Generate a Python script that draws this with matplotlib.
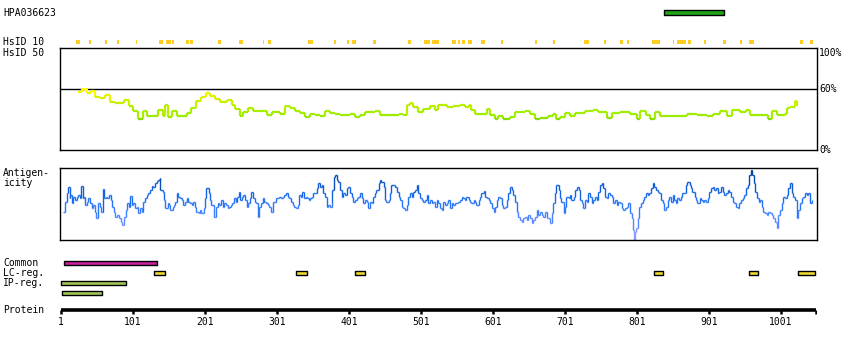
import numpy as np
import matplotlib
matplotlib.use("Agg")
import matplotlib.pyplot as plt
from matplotlib.collections import LineCollection
from matplotlib.colors import LinearSegmentedColormap, Normalize

# ---------------------------------------------------------------- data
PROTEIN_LENGTH = 1050
ANTIGEN_NAME = "HPA036623"
ANTIGEN_SPAN = (838, 922)

# HsID 10 hits (residue start / end)
HSID10_START = [23, 41, 62, 79, 105, 137, 147, 155, 175, 180, 220, 249, 282, 289,
                344, 380, 399, 406, 435, 484, 505, 517, 521, 545, 553, 559, 567,
                585, 588, 612, 660, 685, 728, 756, 778, 787, 823, 851, 857, 866,
                873, 894, 921, 944, 957, 1028, 1042]
HSID10_END = [27, 42, 64, 81, 106, 142, 153, 157, 178, 184, 223, 253, 283, 292,
              350, 382, 401, 410, 438, 486, 513, 520, 525, 549, 554, 561, 571,
              586, 589, 615, 661, 686, 734, 758, 781, 789, 833, 852, 864, 868,
              875, 896, 924, 946, 963, 1031, 1045]

# HsID 50 identity profile (residue, percent)
HSID50_POS = [25, 30, 37, 42, 48, 55, 62, 69, 76, 88, 95, 101, 108, 115, 120, 134,
              136, 143, 146, 150, 155, 162, 169, 176, 182, 189, 196, 202, 208, 215,
              222, 231, 238, 243, 250, 254, 261, 268, 277, 287, 294, 305, 312, 319,
              326, 333, 340, 347, 354, 361, 368, 375, 382, 389, 395, 402, 409, 416,
              423, 432, 437, 444, 453, 463, 470, 476, 481, 486, 490, 497, 504, 514,
              520, 525, 532, 537, 546, 555, 562, 567, 571, 576, 585, 592, 597, 604,
              608, 615, 625, 632, 645, 652, 659, 666, 678, 685, 689, 694, 701, 708,
              715, 729, 740, 747, 759, 766, 777, 791, 801, 805, 814, 819, 826, 833,
              847, 861, 870, 884, 898, 907, 916, 926, 933, 944, 953, 958, 972, 983,
              988, 995, 1007, 1009, 1014, 1021, 1023]
HSID50_PCT = [57, 60, 56, 58, 52, 51, 54, 47, 46, 49, 43, 38, 30, 38, 33, 33,
              39, 33, 44, 32, 38, 33, 33, 36, 41, 48, 52, 56, 53, 50,
              47, 49, 44, 40, 33, 37, 41, 38, 38, 34, 37, 35, 43, 41,
              38, 36, 32, 35, 34, 33, 38, 36, 35, 34, 34, 35, 32, 34,
              37, 37, 38, 34, 34, 34, 35, 34, 44, 46, 42, 37, 40, 43,
              39, 44, 44, 42, 43, 44, 42, 44, 39, 35, 35, 40, 34, 30,
              33, 30, 32, 37, 38, 35, 30, 31, 33, 35, 30, 32, 36, 33,
              36, 38, 39, 37, 31, 36, 37, 35, 30, 38, 34, 30, 37, 33,
              33, 33, 35, 34, 33, 35, 38, 33, 39, 37, 39, 34, 34, 30,
              38, 34, 35, 41, 42, 48, 43]

# Antigenicity profile (residue, score)
ANTIGEN_POS = [4, 7, 9, 11, 13, 14, 16, 18, 20, 23, 25, 27, 29, 31, 33, 35, 37, 39,
               41, 44, 46, 48, 50, 52, 55, 57, 59, 61, 63, 65, 68, 70, 72, 75, 76, 79,
               82, 84, 86, 88, 91, 93, 95, 97, 99, 101, 104, 106, 108, 111, 113, 115,
               118, 120, 122, 125, 127, 129, 132, 134, 136, 138, 139, 142, 144, 146,
               149, 151, 153, 156, 158, 160, 162, 164, 166, 169, 171, 173, 176, 178,
               180, 183, 185, 187, 189, 192, 194, 196, 199, 201, 203, 206, 208, 210,
               213, 214, 216, 219, 221, 223, 226, 228, 230, 233, 235, 237, 239, 241,
               244, 246, 248, 250, 252, 254, 257, 259, 261, 264, 265, 267, 270, 272,
               274, 276, 279, 281, 283, 286, 288, 290, 293, 295, 297, 300, 302, 304,
               307, 309, 311, 314, 316, 318, 320, 323, 325, 327, 330, 332, 334, 336,
               339, 341, 343, 345, 347, 349, 351, 354, 356, 358, 361, 363, 365, 368,
               370, 372, 375, 377, 378, 380, 382, 384, 386, 389, 391, 393, 395, 398,
               400, 402, 405, 407, 409, 412, 414, 416, 419, 421, 423, 426, 428, 430,
               433, 435, 437, 439, 442, 444, 446, 449, 451, 453, 456, 458, 460, 463,
               465, 467, 470, 472, 474, 476, 479, 481, 483, 486, 488, 490, 493, 495,
               497, 500, 502, 504, 507, 509, 511, 514, 516, 518, 520, 523, 525, 527,
               530, 532, 534, 537, 539, 541, 544, 546, 548, 551, 553, 555, 558, 560,
               562, 564, 567, 569, 571, 574, 576, 578, 581, 583, 585, 588, 590, 592,
               595, 597, 599, 602, 604, 606, 608, 611, 613, 615, 618, 620, 622, 625,
               627, 629, 632, 634, 636, 639, 641, 643, 645, 648, 650, 652, 655, 657,
               659, 662, 664, 666, 669, 671, 673, 676, 678, 680, 683, 685, 687, 689,
               692, 694, 696, 699, 701, 703, 706, 708, 710, 713, 715, 717, 720, 722,
               724, 726, 729, 731, 733, 736, 738, 740, 743, 745, 747, 750, 752, 754,
               757, 759, 761, 763, 766, 768, 770, 773, 775, 777, 780, 782, 784, 787,
               789, 791, 794, 795, 797, 798, 800, 803, 804, 807, 809, 811, 813, 816,
               818, 820, 823, 825, 827, 830, 832, 834, 837, 839, 841, 844, 846, 848,
               851, 853, 855, 857, 860, 862, 864, 867, 869, 871, 874, 876, 878, 881,
               883, 885, 888, 890, 892, 894, 897, 899, 901, 904, 906, 908, 911, 913,
               915, 918, 920, 922, 925, 927, 929, 932, 934, 936, 938, 941, 943, 945,
               948, 950, 952, 955, 957, 959, 961, 963, 965, 967, 970, 972, 974, 976,
               979, 981, 983, 986, 988, 990, 993, 995, 997, 1000, 1002, 1004, 1007,
               1009, 1011, 1014, 1016, 1018, 1020, 1023, 1025, 1027, 1030, 1032, 1034,
               1037, 1039, 1041, 1044]
ANTIGEN_VAL = [28, 38, 47, 53, 42, 45, 37, 43, 40, 43, 45, 42, 54, 42, 43, 35, 38, 42,
               37, 32, 35, 28, 22, 37, 33, 28, 51, 42, 43, 42, 45, 40, 33, 28, 23, 25,
               22, 18, 15, 23, 30, 37, 33, 44, 35, 37, 32, 33, 27, 32, 28, 38, 42, 45,
               47, 50, 54, 53, 57, 59, 60, 62, 50, 48, 40, 32, 37, 35, 30, 33, 35, 38,
               47, 43, 42, 40, 35, 38, 42, 38, 37, 35, 38, 33, 28, 27, 30, 27, 32, 42,
               52, 47, 40, 35, 32, 23, 33, 37, 35, 40, 33, 37, 35, 32, 33, 35, 37, 42,
               38, 43, 48, 40, 43, 45, 40, 33, 37, 42, 48, 42, 38, 37, 23, 33, 37, 42,
               38, 37, 35, 33, 28, 38, 38, 42, 42, 43, 42, 43, 45, 47, 43, 42, 38, 35,
               33, 32, 35, 45, 43, 48, 42, 43, 42, 40, 42, 43, 47, 47, 52, 57, 53, 55,
               47, 43, 33, 35, 33, 37, 50, 63, 65, 60, 58, 50, 43, 47, 45, 52, 53, 47,
               43, 38, 40, 42, 43, 47, 42, 37, 40, 38, 32, 38, 37, 43, 47, 50, 57, 60,
               58, 53, 40, 38, 40, 47, 55, 55, 53, 48, 43, 40, 33, 32, 30, 35, 43, 47,
               43, 48, 50, 55, 47, 42, 40, 38, 40, 45, 37, 40, 37, 38, 33, 40, 37, 32,
               30, 38, 35, 37, 40, 32, 37, 35, 37, 37, 38, 40, 43, 42, 40, 43, 40, 38,
               37, 40, 38, 35, 40, 43, 47, 49, 43, 42, 40, 37, 32, 28, 33, 40, 43, 42,
               35, 32, 33, 40, 47, 53, 50, 45, 38, 28, 23, 20, 18, 22, 23, 20, 25, 22,
               17, 20, 23, 30, 25, 28, 25, 23, 28, 22, 22, 17, 27, 37, 47, 55, 50, 42,
               38, 27, 33, 43, 42, 45, 40, 43, 50, 53, 50, 40, 37, 32, 40, 38, 47, 43,
               37, 40, 43, 40, 48, 55, 57, 52, 43, 42, 47, 45, 43, 37, 40, 35, 38, 37,
               32, 30, 32, 33, 37, 27, 22, 10, 0, 8, 12, 22, 33, 37, 40, 43, 47, 45,
               47, 52, 57, 53, 50, 48, 47, 40, 37, 30, 33, 40, 43, 38, 45, 40, 37, 42,
               40, 43, 47, 47, 55, 58, 55, 52, 48, 43, 40, 37, 42, 40, 38, 40, 38, 42,
               48, 52, 53, 50, 52, 47, 48, 53, 48, 45, 47, 50, 48, 43, 38, 37, 33, 32,
               37, 40, 42, 45, 52, 55, 65, 70, 65, 57, 48, 42, 38, 40, 33, 28, 27, 25,
               28, 27, 25, 22, 18, 12, 25, 30, 37, 43, 42, 45, 52, 57, 47, 43, 40, 22,
               30, 37, 42, 43, 47, 45, 47, 37, 40]

# Feature tracks (residue start, residue end)
COMMON_REGIONS = [(5, 134)]
LC_REGIONS = [(130, 146), (327, 343), (409, 423), (825, 837), (957, 969), (1025, 1048)]
IP_REGIONS = [(1, 91)]
IP_REGIONS_2 = [(2, 58)]
PROTEIN_TICKS = [1, 101, 201, 301, 401, 501, 601, 701, 801, 901, 1001]

# ---------------------------------------------------------------- layout
W, H = 850, 350
MONO = "DejaVu Sans Mono"
XLIM = (-0.4, 1051)


def px_rect(left, top, right, bottom):
    return [left / W, 1 - bottom / H, (right - left) / W, (bottom - top) / H]


def step_segments(pos, val):
    pos = np.asarray(pos, float)
    val = np.asarray(val, float)
    segs, cols = [], []
    for i in range(len(pos) - 1):
        segs.append([(pos[i], val[i]), (pos[i + 1], val[i])])
        cols.append(val[i])
        segs.append([(pos[i + 1], val[i]), (pos[i + 1], val[i + 1])])
        cols.append(max(val[i], val[i + 1]))
    return segs, np.array(cols)


fig = plt.figure(figsize=(W / 100, H / 100), dpi=100)
fig.patch.set_facecolor("white")

# tracks drawn on a full-height axes measured in pixel rows
tr = fig.add_axes(px_rect(60, 0, 817, 350))
tr.set_xlim(*XLIM)
tr.set_ylim(H, 0)
tr.axis("off")

# antigen bar
tr.broken_barh([(ANTIGEN_SPAN[0], ANTIGEN_SPAN[1] - ANTIGEN_SPAN[0])], (10, 4.6),
               facecolors="#1fa51a", edgecolors="black", linewidth=1.0)

# HsID 10 hits
hits = [(s - 0.5, max(e - s + 1, 1.5)) for s, e in zip(HSID10_START, HSID10_END)]
tr.broken_barh(hits, (40, 4.4), facecolors="#ffcc22", linewidth=0)


def regions(spans, y, h, color):
    tr.broken_barh([(s, e - s) for s, e in spans], (y, h),
                   facecolors=color, edgecolors="black", linewidth=1.0)


regions(COMMON_REGIONS, 261, 4, "#c8209e")
regions(LC_REGIONS, 270.5, 4, "#f0dc32")
regions(IP_REGIONS, 280.5, 4, "#a3c85a")
regions(IP_REGIONS_2, 290.5, 4, "#a3c85a")

# protein ruler
tr.plot([1, PROTEIN_LENGTH], [309.5, 309.5], color="black", lw=2.6,
        solid_capstyle="butt")
for t in PROTEIN_TICKS + [PROTEIN_LENGTH]:
    tr.plot([t, t], [309.5, 314], color="black", lw=1.8, solid_capstyle="butt")
for t in PROTEIN_TICKS:
    tr.text(t, 322, str(t), ha="center", va="center", fontsize=7, family=MONO)

# HsID 50 panel
ax1 = fig.add_axes(px_rect(60, 48.3, 817, 150))
ax1.set_xlim(*XLIM)
ax1.set_ylim(0, 100)
ax1.set_xticks([])
ax1.set_yticks([])
for sp in ax1.spines.values():
    sp.set_linewidth(1.0)
ax1.axhline(60, color="black", lw=1.0)
cmap1 = LinearSegmentedColormap.from_list(
    "hsid", [(0.0, "#55b800"), (0.2, "#99ec00"), (0.43, "#aaf000"),
             (0.66, "#ccf000"), (0.88, "#eef200"), (1.0, "#ffff00")])
segs, cols = step_segments(HSID50_POS, HSID50_PCT)
lc1 = LineCollection(segs, cmap=cmap1, norm=Normalize(25, 60), linewidths=1.6,
                     capstyle="butt")
lc1.set_array(cols)
ax1.add_collection(lc1)
ytr = ax1.get_yaxis_transform()
ax1.text(1.003, 100, "100%", transform=ytr, va="top", ha="left", fontsize=7, family=MONO)
ax1.text(1.003, 60, "60%", transform=ytr, va="center", ha="left", fontsize=7, family=MONO)
ax1.text(1.003, 0, "0%", transform=ytr, va="center", ha="left", fontsize=7, family=MONO)

# antigenicity panel
ax2 = fig.add_axes(px_rect(60, 168.3, 817, 240))
ax2.set_xlim(*XLIM)
ax2.set_ylim(0, 71.7)
ax2.set_xticks([])
ax2.set_yticks([])
for sp in ax2.spines.values():
    sp.set_linewidth(1.0)
cmap2 = LinearSegmentedColormap.from_list(
    "antigen", [(0.0, "#b4a4ff"), (0.2, "#7490ff"), (0.42, "#3a80ff"),
                (0.62, "#1a6cf0"), (0.82, "#0a56cc"), (1.0, "#003c90")])
segs, cols = step_segments(ANTIGEN_POS, ANTIGEN_VAL)
lc2 = LineCollection(segs, cmap=cmap2, norm=Normalize(0, 72), linewidths=1.0,
                     capstyle="butt")
lc2.set_array(cols)
ax2.add_collection(lc2)

# row labels
labels = [(ANTIGEN_NAME, 12.5), ("HsID 10", 42), ("HsID 50", 52.5),
          ("Antigen-", 172.5), ("icity", 183), ("Common", 262.5),
          ("LC-reg.", 273), ("IP-reg.", 283), ("Protein", 310)]
for txt, y in labels:
    fig.text(3 / W, 1 - y / H, txt, ha="left", va="center", fontsize=7, family=MONO)

fig.savefig("out.png", dpi=100, facecolor="white")
